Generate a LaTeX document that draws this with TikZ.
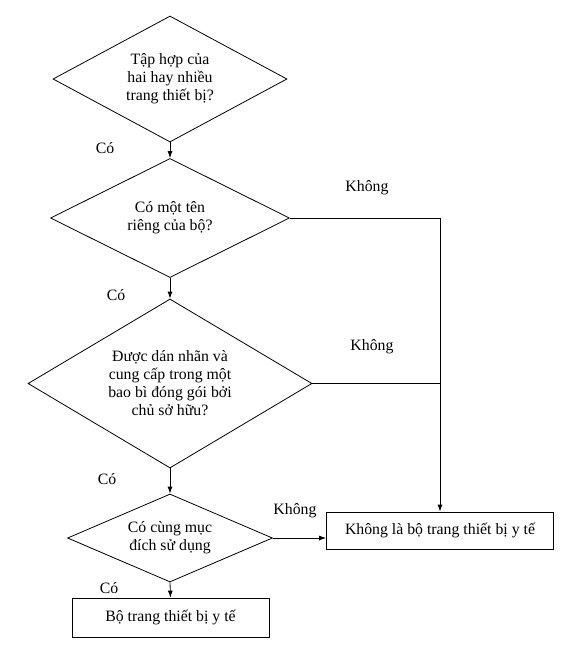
\documentclass[tikz,border=0pt]{standalone}
\usepackage{fontspec}
\setmainfont{Liberation Serif}
\usetikzlibrary{shapes.geometric,arrows.meta}

\begin{document}
\begin{tikzpicture}[x=1pt,y=-1pt,line width=0.8pt,
  decision/.style={draw=black,diamond,inner sep=0pt,align=center,font=\fontsize{15.8}{18}\selectfont},
  outcome/.style={draw=black,rectangle,inner sep=0pt,align=center,font=\fontsize{15.8}{18}\selectfont},
  answer/.style={inner sep=0pt,font=\fontsize{15.8}{18}\selectfont},
  flow/.style={draw=black,-{Latex[length=7pt,width=5pt]}}]
\useasboundingbox (0,0) rectangle (576,654);
\node [decision,aspect=1.86,minimum width=234pt,minimum height=126pt] (set) at (170,79) {Tập hợp của\\hai hay nhiều\\trang thiết bị?};
\node [decision,aspect=2,minimum width=239pt,minimum height=119pt] (name) at (170,218) {Có một tên\\riêng của bộ?};
\node [decision,aspect=1.68,minimum width=284pt,minimum height=169pt] (label) at (170,383.5) {Được dán nhãn và\\cung cấp trong một\\bao bì đóng gói bởi\\chủ sở hữu?};
\node [decision,aspect=2.33,minimum width=205pt,minimum height=88pt] (purpose) at (170,538) {Có cùng mục\\đích sử dụng};
\node [outcome,minimum width=197pt,minimum height=39pt] (kit) at (170.5,617.5) {Bộ trang thiết bị y tế};
\node [outcome,minimum width=227pt,minimum height=37pt] (notkit) at (440,530.5) {Không là bộ trang thiết bị y tế};
\draw [flow] (set.south) -- (name.north);
\draw [flow] (name.south) -- (label.north);
\draw [flow] (label.south) -- (purpose.north);
\draw [flow] (purpose.south) -- (kit.north);
\draw [flow] (purpose.east) -- (purpose.east -| notkit.west);
\draw [flow] (name.east) -- (name.east -| notkit.north) -- (notkit.north);
\draw [black] (label.east) -- (label.east -| notkit.north);
\node [answer] (yes1) at (105,148) {Có};
\node [answer] (yes2) at (116,295) {Có};
\node [answer] (yes3) at (107,479) {Có};
\node [answer] (yes4) at (109,588) {Có};
\node [answer] (no1) at (367,188) {Không};
\node [answer] (no2) at (372,347) {Không};
\node [answer] (no3) at (295,511) {Không};
\end{tikzpicture}
\end{document}
